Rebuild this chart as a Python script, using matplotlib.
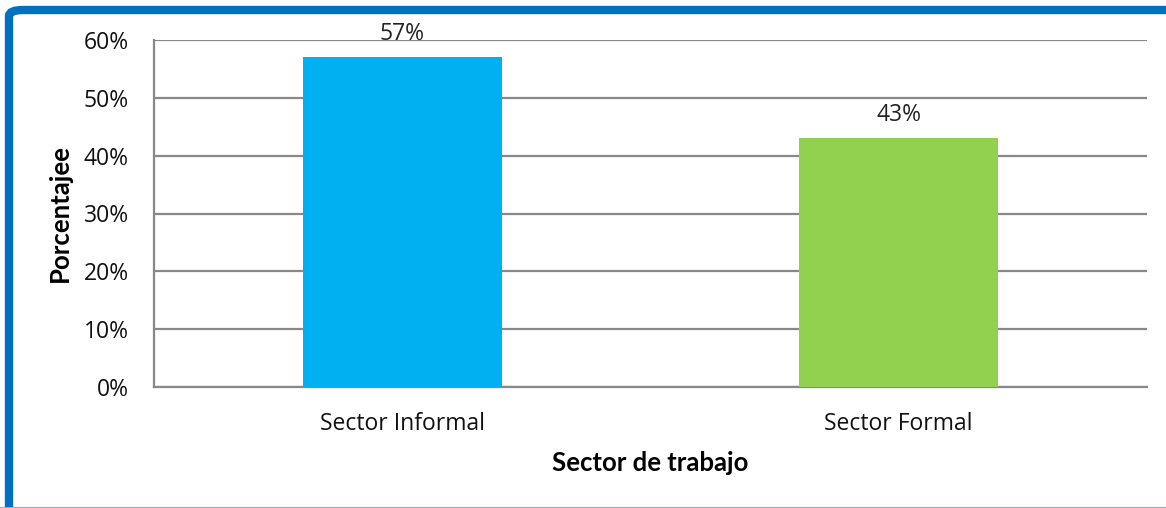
import matplotlib.pyplot as plt
from matplotlib.patches import FancyBboxPatch
from matplotlib.lines import Line2D
from matplotlib.ticker import PercentFormatter

categories = ["Sector Informal", "Sector Formal"]
values = [0.57, 0.43]
bar_colors = ["#00B0F0", "#92D050"]
value_labels = ["57%", "43%"]

plt.rcParams["font.family"] = ["Open Sans", "DejaVu Sans"]

fig = plt.figure(figsize=(11.66, 5.08), dpi=100)
ax = fig.add_axes([154 / 1166, 1 - 387 / 508, 993 / 1166, 347 / 508])

x = range(len(categories))
ax.bar(x, values, width=0.4, color=bar_colors, zorder=3)
for xi, v, lab in zip(x, values, value_labels):
    ax.annotate(lab, (xi, v), xytext=(0, 8), textcoords="offset points",
                ha="center", va="bottom", fontsize=16.5, color="#222222")

ax.set_xlim(-0.5, 1.5)
ax.set_ylim(0, 0.6)
ax.set_yticks([0, 0.1, 0.2, 0.3, 0.4, 0.5, 0.6])
ax.yaxis.set_major_formatter(PercentFormatter(1.0, decimals=0))
ax.set_xticks(list(x))
ax.set_xticklabels(categories)
ax.tick_params(axis="both", length=0, labelsize=16.5, colors="#111111")
ax.tick_params(axis="y", pad=18)
ax.tick_params(axis="x", pad=18)
ax.grid(axis="y", color="#888888", linewidth=1.6, zorder=0)
for s in ["top", "right"]:
    ax.spines[s].set_visible(False)
for s in ["left", "bottom"]:
    ax.spines[s].set_color("#888888")
    ax.spines[s].set_linewidth(1.6)

ax.set_ylabel("Porcentajee", fontsize=18.5, fontweight="bold", labelpad=9,
              family=["Lato", "DejaVu Sans"])
ax.set_xlabel("Sector de trabajo", fontsize=18.5, fontweight="bold", labelpad=11,
              family=["Lato", "DejaVu Sans"])

# blue frame around the chart
frame = FancyBboxPatch((9 / 1166, -0.1), 1.2, 1 - 10 / 508 + 0.1,
                       boxstyle="round,pad=0,rounding_size=0.012",
                       transform=fig.transFigure, fill=False,
                       edgecolor="#0070C0", linewidth=6, clip_on=False)
fig.patches.append(frame)
fig.add_artist(Line2D([0, 1], [0.5 / 508, 0.5 / 508], transform=fig.transFigure,
                      color="#7fb2dd", linewidth=1.5))

fig.savefig("out.png", dpi=100)
